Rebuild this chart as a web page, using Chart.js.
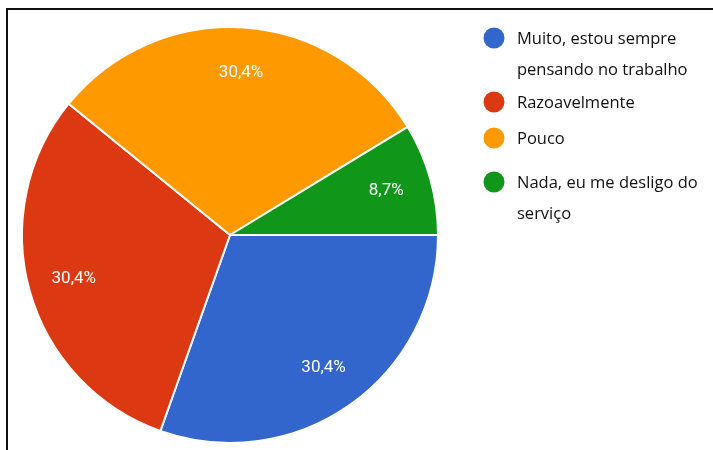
<!DOCTYPE html>
<html>
<head>
<meta charset="utf-8">
<title>Pensa no trabalho fora do expediente</title>
<script src="https://cdn.jsdelivr.net/npm/chart.js@4"></script>
<style>
  body { margin: 0; background: #fff; }
  #wrap { position: relative; width: 713px; height: 450px; overflow: hidden; }
  #frame { position: absolute; left: 6px; top: 8px; width: 720px; height: 460px;
           border-left: 2px solid #111; border-top: 2px solid #111; }
  canvas { position: absolute; left: 0; top: 0; }
</style>
</head>
<body>
<div id="wrap">
  <div id="frame"></div>
  <canvas id="pie" width="713" height="450"></canvas>
</div>
<script>
const categories = [
  ['Muito, estou sempre', 'pensando no trabalho'],
  ['Razoavelmente'],
  ['Pouco'],
  ['Nada, eu me desligo do', 'serviço']
];
const answers = [7, 7, 7, 2];
const percentLabels = ['30,4%', '30,4%', '30,4%', '8,7%'];
const colors = ['#3366cc', '#dc3912', '#ff9900', '#109618'];

// percent text inside each slice
const sliceLabels = {
  id: 'sliceLabels',
  afterDatasetsDraw(chart) {
    const ctx = chart.ctx;
    const meta = chart.getDatasetMeta(0);
    ctx.save();
    ctx.font = '17px Roboto, Arial, sans-serif';
    ctx.fillStyle = '#fff';
    ctx.textAlign = 'center';
    ctx.textBaseline = 'middle';
    meta.data.forEach((arc, i) => {
      const mid = (arc.startAngle + arc.endAngle) / 2;
      const r = arc.outerRadius * 0.78;
      ctx.fillText(percentLabels[i], arc.x + Math.cos(mid) * r, arc.y + Math.sin(mid) * r);
    });
    ctx.restore();
  }
};

// legend on the right, with wrapped labels
const sideLegend = {
  id: 'sideLegend',
  afterDraw(chart) {
    const ctx = chart.ctx;
    const x = 494, lineH = 31;
    const rows = [38, 102, 138, 182];
    ctx.save();
    ctx.font = '16.5px "Open Sans", sans-serif';
    ctx.textBaseline = 'middle';
    chart.data.labels.forEach((lines, i) => {
      const y = rows[i];
      ctx.fillStyle = chart.data.datasets[0].backgroundColor[i];
      ctx.beginPath();
      ctx.arc(x, y, 10.5, 0, Math.PI * 2);
      ctx.fill();
      ctx.fillStyle = '#111';
      lines.forEach((t, j) => ctx.fillText(t, x + 23, y + 1 + j * lineH));
    });
    ctx.restore();
  }
};

new Chart(document.getElementById('pie'), {
  type: 'pie',
  data: {
    labels: categories,
    datasets: [{
      data: answers,
      backgroundColor: colors,
      borderColor: '#fff',
      borderWidth: 2
    }]
  },
  options: {
    responsive: false,
    animation: false,
    rotation: 90,
    layout: { padding: { left: 21, top: 25, right: 274, bottom: 5 } },
    plugins: {
      legend: { display: false },
      tooltip: { enabled: false }
    }
  },
  plugins: [sliceLabels, sideLegend]
});
</script>
</body>
</html>
